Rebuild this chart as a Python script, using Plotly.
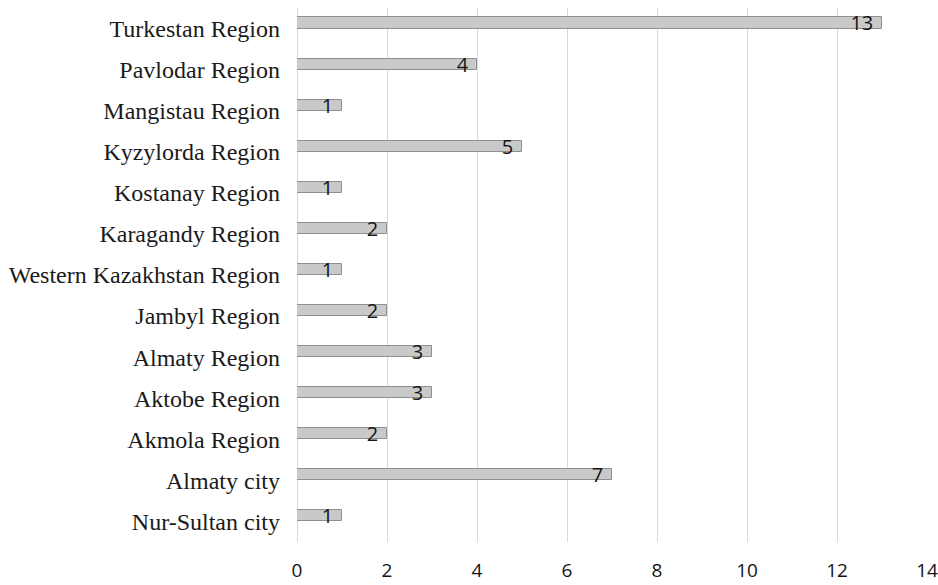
import plotly.graph_objects as go

# Regions listed bottom-to-top as they appear on the category axis
regions = [
    "Nur-Sultan city",
    "Almaty city",
    "Akmola Region",
    "Aktobe Region",
    "Almaty Region",
    "Jambyl Region",
    "Western Kazakhstan Region",
    "Karagandy Region",
    "Kostanay Region",
    "Kyzylorda Region",
    "Mangistau Region",
    "Pavlodar Region",
    "Turkestan Region",
]
counts = [1, 7, 2, 3, 3, 2, 1, 2, 1, 5, 1, 4, 13]
x_ticks = [0, 2, 4, 6, 8, 10, 12, 14]

fig = go.Figure()
fig.add_trace(
    go.Bar(
        y=regions,
        x=counts,
        orientation="h",
        width=0.27,
        offset=0.0,
        marker=dict(color="#c9c9c9", line=dict(color="#8f8f8f", width=1)),
        text=counts,
        texttemplate="%{x}\u00a0",
        textposition="inside",
        insidetextanchor="end",
        textangle=0,
        constraintext="none",
        textfont=dict(family="Open Sans, Liberation Sans, sans-serif", size=20, color="#141414"),
        hoverinfo="x+y",
    )
)

fig.update_layout(
    width=938,
    height=585,
    margin=dict(l=297, r=11, t=8, b=43),
    paper_bgcolor="white",
    plot_bgcolor="white",
    showlegend=False,
    bargap=0,
    xaxis=dict(
        range=[0, 14],
        tickvals=x_ticks,
        ticktext=[str(v) for v in x_ticks],
        showgrid=True,
        gridcolor="#d9d9d9",
        gridwidth=1,
        zeroline=True,
        zerolinecolor="#d9d9d9",
        zerolinewidth=1,
        showline=False,
        ticks="",
        ticklabelstandoff=15,
        ticklabeloverflow="allow",
        automargin=False,
        tickfont=dict(family="Open Sans, Liberation Sans, sans-serif", size=19, color="#141414"),
        fixedrange=True,
    ),
    yaxis=dict(
        type="category",
        categoryorder="array",
        categoryarray=regions,
        range=[-0.5, 12.5],
        showgrid=False,
        zeroline=False,
        showline=False,
        ticks="",
        ticklabelstandoff=16,
        automargin=False,
        tickfont=dict(family="Liberation Serif, Times New Roman, serif", size=24, color="#1a1a1a"),
        fixedrange=True,
    ),
)

fig.write_html("out.html")
